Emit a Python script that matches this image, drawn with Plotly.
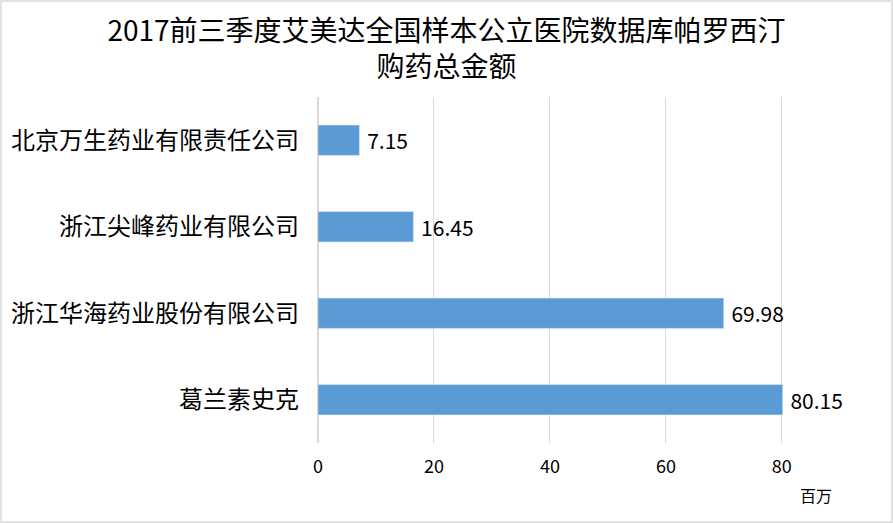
import plotly.graph_objects as go

# Data
companies = ["北京万生药业有限责任公司", "浙江尖峰药业有限公司", "浙江华海药业股份有限公司", "葛兰素史克"]
amounts = [7.15, 16.45, 69.98, 80.15]
ticks = [0, 20, 40, 60, 80]

font_family = "Noto Sans CJK SC, Noto Sans, sans-serif"

fig = go.Figure(go.Bar(
    x=amounts,
    y=companies,
    orientation="h",
    marker=dict(color="#5B9BD5"),
    text=[f" {v:.2f}" for v in amounts],
    textposition="outside",
    cliponaxis=False,
    textfont=dict(size=21, color="#000000"),
))

fig.update_layout(
    width=893,
    height=523,
    margin=dict(l=318, r=110, t=97, b=80),
    paper_bgcolor="white",
    plot_bgcolor="white",
    font=dict(family=font_family, color="#000000"),
    title=dict(
        text="2017前三季度艾美达全国样本公立医院数据库帕罗西汀<br>购药总金额",
        x=0.5, xanchor="center", y=0.922, yanchor="top",
        font=dict(size=28, color="#000000"),
    ),
    bargap=0.65,
    showlegend=False,
    xaxis=dict(
        range=[0, 80.2],
        tickvals=ticks,
        showgrid=True,
        gridcolor="#D9D9D9",
        zeroline=True,
        zerolinecolor="#D9D9D9",
        showline=False,
        tickfont=dict(size=18, color="#000000"),
        ticklabelstandoff=11,
    ),
    yaxis=dict(
        autorange="reversed",
        showgrid=False,
        showline=False,
        tickfont=dict(size=24, color="#000000"),
        ticklabelstandoff=18,
    ),
    annotations=[dict(
        text="百万", xref="paper", yref="paper", x=1.07, y=-0.11,
        xanchor="center", yanchor="top", showarrow=False,
        font=dict(size=16, color="#000000"),
    )],
    shapes=[dict(
        type="rect", xref="paper", yref="paper",
        x0=-317 / 465, x1=1 + 109 / 465, y0=-79 / 346, y1=1 + 96 / 346,
        line=dict(color="#D9D9D9", width=1.5),
    )],
)

fig.write_html("out.html", config={"displayModeBar": False},
               post_script="document.body.style.margin='0px';")
